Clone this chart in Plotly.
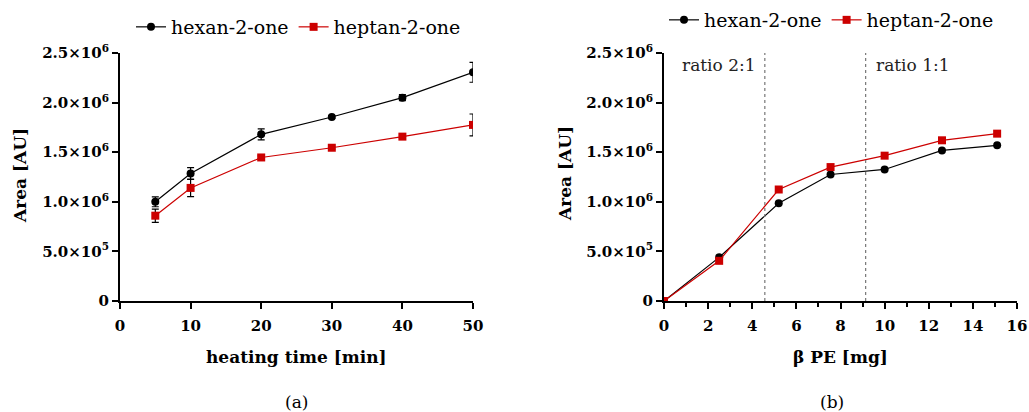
import plotly.graph_objects as go

# Panel (a)
time_min = [5, 10, 20, 30, 40, 50]
hex_a = [1.00e6, 1.285e6, 1.68e6, 1.855e6, 2.05e6, 2.305e6]
hex_a_err = [0.05e6, 0.06e6, 0.055e6, 0.015e6, 0.03e6, 0.10e6]
hep_a = [0.86e6, 1.14e6, 1.447e6, 1.545e6, 1.657e6, 1.775e6]
hep_a_err = [0.067e6, 0.088e6, 0.015e6, 0.015e6, 0.015e6, 0.11e6]

# Panel (b)
pe_mg = [0, 2.5, 5.2, 7.55, 10.0, 12.6, 15.1]
hex_b = [0, 0.44e6, 0.985e6, 1.275e6, 1.326e6, 1.518e6, 1.569e6]
hep_b = [0, 0.405e6, 1.124e6, 1.35e6, 1.465e6, 1.62e6, 1.687e6]
ratio_lines = [4.57, 9.14]
ratio_labels = ["ratio 2:1", "ratio 1:1"]
ratio_label_x = [2.5, 11.3]

y_ticks = [0, 0.5e6, 1.0e6, 1.5e6, 2.0e6, 2.5e6]
y_ticktext = ["0", "5.0×10<sup>5</sup>", "1.0×10<sup>6</sup>", "1.5×10<sup>6</sup>",
              "2.0×10<sup>6</sup>", "2.5×10<sup>6</sup>"]

FONT = "DejaVu Serif"
BLACK = "#000000"
RED = "#cc0000"
W, H = 1029, 412


def px(x):
    return x / W


def py(y):
    return 1 - y / H


fig = go.Figure()

fig.add_trace(go.Scatter(x=time_min, y=hex_a, name="hexan-2-one", mode="lines+markers",
                         line=dict(color=BLACK, width=1.2), marker=dict(symbol="circle", size=8, color=BLACK),
                         error_y=dict(type="data", array=hex_a_err, color=BLACK, thickness=1.2, width=3.5),
                         xaxis="x", yaxis="y", legend="legend"))
fig.add_trace(go.Scatter(x=time_min, y=hep_a, name="heptan-2-one", mode="lines+markers",
                         line=dict(color=RED, width=1.2), marker=dict(symbol="square", size=8, color=RED),
                         error_y=dict(type="data", array=hep_a_err, color=BLACK, thickness=1.2, width=3.5),
                         xaxis="x", yaxis="y", legend="legend"))

fig.add_trace(go.Scatter(x=pe_mg, y=hex_b, name="hexan-2-one", mode="lines+markers",
                         line=dict(color=BLACK, width=1.2), marker=dict(symbol="circle", size=8, color=BLACK),
                         xaxis="x2", yaxis="y2", legend="legend2"))
fig.add_trace(go.Scatter(x=pe_mg, y=hep_b, name="heptan-2-one", mode="lines+markers",
                         line=dict(color=RED, width=1.2), marker=dict(symbol="square", size=8, color=RED),
                         xaxis="x2", yaxis="y2", legend="legend2"))

for xv in ratio_lines:
    fig.add_shape(type="line", x0=xv, x1=xv, y0=0, y1=2.5e6, xref="x2", yref="y2",
                  line=dict(color="#777777", width=1.2, dash="dot"))
for xl, txt in zip(ratio_label_x, ratio_labels):
    fig.add_annotation(x=xl, y=2.38e6, xref="x2", yref="y2", text=txt, showarrow=False,
                       xanchor="center", yanchor="middle",
                       font=dict(family=FONT, size=17, color="#222222"))

axis_common = dict(showline=True, linewidth=2, linecolor=BLACK, ticks="outside", ticklen=6,
                   tickwidth=2, tickcolor=BLACK, showgrid=False, zeroline=False, automargin=False,
                   tickfont=dict(family=FONT, size=15, color=BLACK, weight="bold"))

ydom = [py(301), py(53)]
fig.update_layout(
    width=W, height=H, margin=dict(l=0, r=0, t=0, b=0, autoexpand=False),
    plot_bgcolor="white", paper_bgcolor="white",
    xaxis=dict(domain=[px(120), px(473)], range=[0, 50], tickvals=[0, 10, 20, 30, 40, 50],
               anchor="y", ticklabelstandoff=4, **axis_common),
    yaxis=dict(domain=ydom, range=[0, 2.5e6], tickvals=y_ticks, ticktext=y_ticktext, anchor="x",
               **axis_common),
    xaxis2=dict(domain=[px(664), px(1017)], range=[0, 16], tickvals=list(range(0, 17, 2)),
                minor=dict(ticks="outside", ticklen=4, tickwidth=2, tickcolor=BLACK, dtick=1, showgrid=False),
                anchor="y2", ticklabelstandoff=4, **axis_common),
    yaxis2=dict(domain=ydom, range=[0, 2.5e6], tickvals=y_ticks, ticktext=y_ticktext, anchor="x2",
                **axis_common),
    legend=dict(orientation="h", x=px(131), y=py(27), xanchor="left", yanchor="middle",
                font=dict(family=FONT, size=19, color=BLACK), bgcolor="rgba(0,0,0,0)"),
    legend2=dict(orientation="h", x=px(664), y=py(20), xanchor="left", yanchor="middle",
                 font=dict(family=FONT, size=19, color=BLACK), bgcolor="rgba(0,0,0,0)"),
)


def px_ann(x, y, text, size=17, angle=0):
    fig.add_annotation(x=px(x), y=py(y), xref="paper", yref="paper", text=text, textangle=angle,
                       showarrow=False, xanchor="center", yanchor="middle",
                       font=dict(family=FONT, size=size, color=BLACK))


px_ann(20, 176, "<b>Area [AU]</b>", angle=-90)
px_ann(565, 174, "<b>Area [AU]</b>", angle=-90)
px_ann(296, 357, "<b>heating time [min]</b>")
px_ann(840, 357, "<b>β PE [mg]</b>")
px_ann(296, 402, "(a)")
px_ann(832, 402, "(b)")

fig.write_html("out.html", config={"displayModeBar": False},
               post_script="document.body.style.margin='0';document.body.style.overflow='hidden';")
